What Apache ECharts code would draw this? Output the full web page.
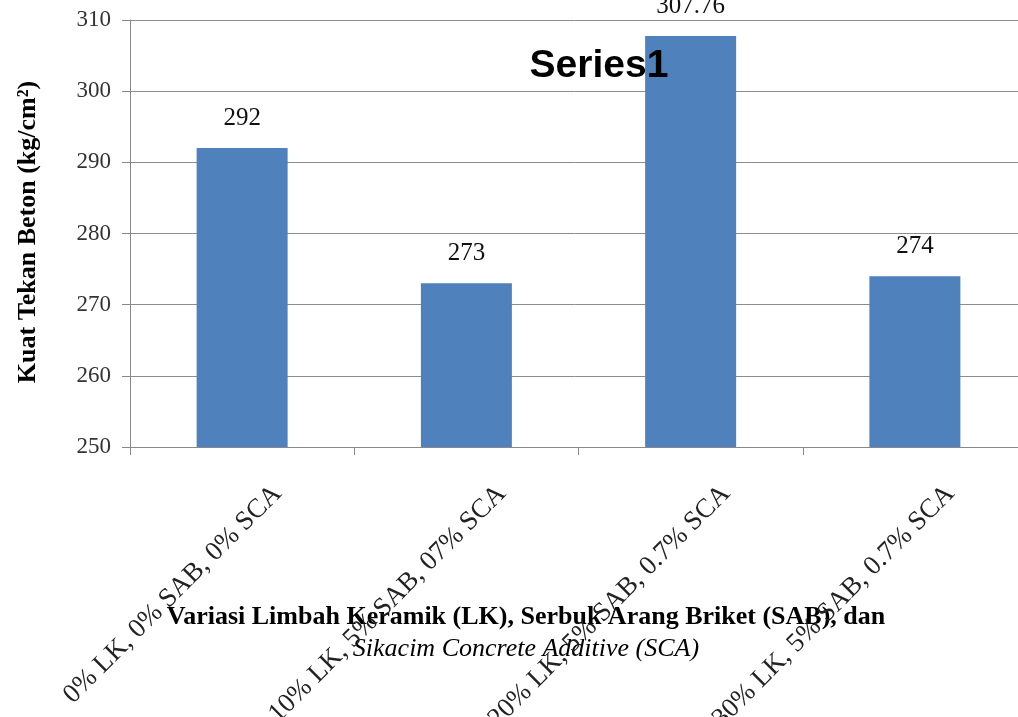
<!DOCTYPE html>
<html>
<head>
<meta charset="utf-8">
<script src="https://cdn.jsdelivr.net/npm/echarts@6/dist/echarts.min.js"></script>
<style>html,body{margin:0;padding:0;background:#fff}#c{width:1018px;height:717px}</style>
</head>
<body>
<div id="c"></div>
<script>
var categories = ['0% LK, 0% SAB, 0% SCA', '10% LK, 5% SAB, 07% SCA', '20% LK, 5% SAB, 0.7% SCA', '30% LK, 5% SAB, 0.7% SCA'];
var values = [292, 273, 307.76, 274];
var yTicks = [250, 260, 270, 280, 290, 300, 310];
var seriesName = 'Series1';
var xTitle1 = 'Variasi Limbah Keramik (LK), Serbuk Arang Briket (SAB), dan';
var xTitle2 = 'Sikacim Concrete Additive (SCA)';
var yTitle = 'Kuat Tekan Beton (kg/cm²)';

var chart = echarts.init(document.getElementById('c'), null, {renderer: 'canvas'});
var serif = '"Liberation Serif", "DejaVu Serif", serif';
chart.setOption({
  animation: false,
  backgroundColor: '#ffffff',
  title: {
    text: seriesName,
    left: 594, top: 42,
    textAlign: 'center',
    textStyle: {fontFamily: '"Liberation Sans", Arial, sans-serif', fontWeight: 'bold', fontSize: 39, color: '#000'}
  },
  graphic: [
    {type: 'text', x: 526, y: 617, style: {text: xTitle1, font: 'bold 26px ' + serif, fill: '#000', textAlign: 'center', textVerticalAlign: 'middle'}},
    {type: 'text', x: 526, y: 649, style: {text: xTitle2, font: 'italic 26px ' + serif, fill: '#000', textAlign: 'center', textVerticalAlign: 'middle'}},
    {type: 'text', rotation: Math.PI / 2, x: 28, y: 232, style: {text: yTitle, font: 'bold 26px ' + serif, fill: '#000', textAlign: 'center', textVerticalAlign: 'middle'}}
  ],
  grid: {left: 130, width: 897, top: 20, bottom: 270, containLabel: false, outerBoundsMode: 'none'},
  xAxis: {
    type: 'category',
    data: categories,
    axisLine: {show: true, lineStyle: {color: '#888', width: 1}},
    axisTick: {show: true, length: 8, lineStyle: {color: '#888'}},
    axisLabel: {
      rotate: 45, interval: 0, margin: 78,
      fontFamily: serif, fontSize: 27, color: '#222',
      padding: [0, -50, 0, 0]
    }
  },
  yAxis: {
    type: 'value',
    min: yTicks[0], max: yTicks[yTicks.length - 1], interval: 10,
    axisLine: {show: true, lineStyle: {color: '#888', width: 1}},
    axisTick: {show: true, length: 8, lineStyle: {color: '#888'}},
    axisLabel: {fontFamily: serif, fontSize: 23, color: '#333', margin: 19},
    splitLine: {show: true, lineStyle: {color: '#8c8c8c', width: 1}}
  },
  series: [{
    name: seriesName,
    type: 'bar',
    data: values,
    barWidth: 91,
    itemStyle: {color: '#4F81BD'},
    label: {show: true, position: 'top', distance: 17, fontFamily: serif, fontSize: 25, color: '#111'}
  }]
});
</script>
</body>
</html>
